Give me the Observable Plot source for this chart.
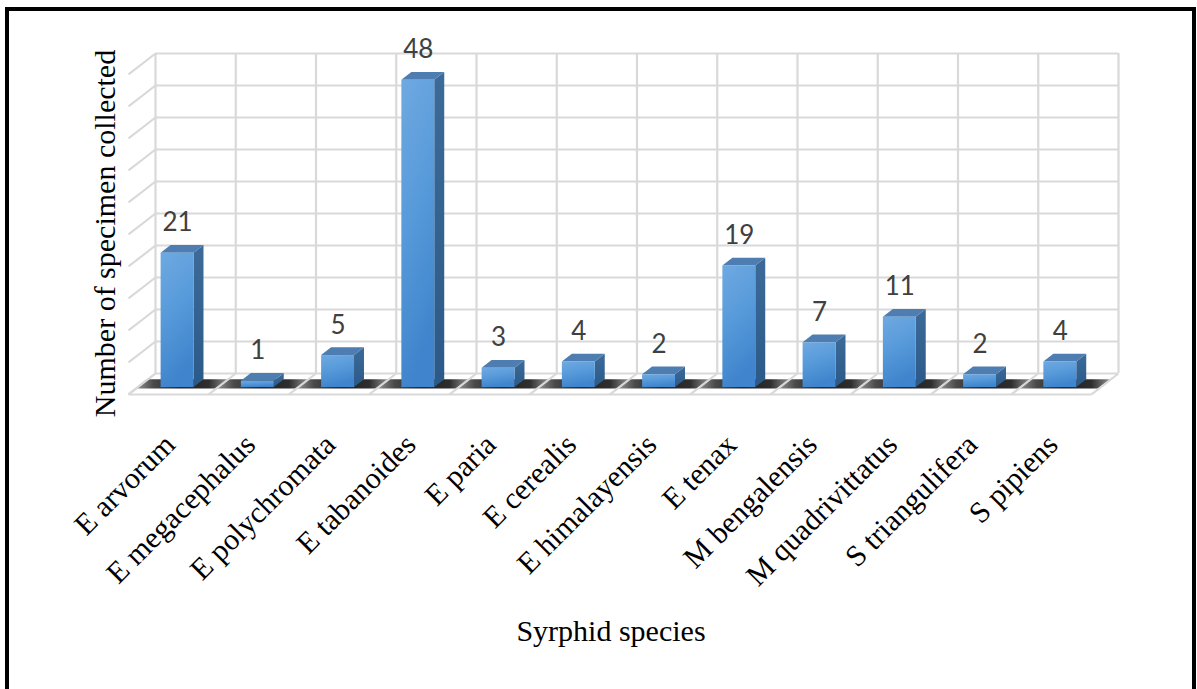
<!DOCTYPE html>
<html>
<head>
<meta charset="utf-8">
<script src="https://cdn.jsdelivr.net/npm/d3@7"></script>
<script src="https://cdn.jsdelivr.net/npm/@observablehq/plot@0.6"></script>
<style>
  html, body { margin: 0; padding: 0; background: #fff; }
  #wrap { position: relative; width: 1197px; height: 689px; overflow: hidden; background: #fff; }
  #frame { position: absolute; left: 5px; top: 7px; width: 1191px; height: 720px; box-sizing: border-box;
           border: 4px solid #000; border-bottom: none; pointer-events: none; }
  #chart { position: absolute; left: 0; top: 0; }
</style>
</head>
<body>
<div id="wrap"><div id="chart"></div><div id="frame"></div></div>
<script>
// ---- data ----
const species = ["E arvorum", "E megacephalus", "E polychromata", "E tabanoides", "E paria", "E cerealis",
  "E himalayensis", "E tenax", "M bengalensis", "M quadrivittatus", "S triangulifera", "S pipiens"];
const counts = [21, 1, 5, 48, 3, 4, 2, 19, 7, 11, 2, 4];
const gridTicks = [0, 5, 10, 15, 20, 25, 30, 35, 40, 45, 50];
const xTitle = "Syrphid species";
const yTitle = "Number of specimen collected";

// ---- 3D projection (oblique): z = 1 back wall, z = 0 front edge of floor ----
const KX = 0.336, KY = 3.28;      // shift of full depth in category / value units
const HW = 0.205, ZF = 0.33, ZB = 0.70;   // bar half width, bar front & back depth
const P = (x, y, z) => [x - (1 - z) * KX, y - (1 - z) * KY];

const rows = species.map((s, i) => ({i, s, v: counts[i]}));

const frontFaces = rows.map(d => {
  const [x1, y1] = P(d.i - HW, 0, ZF);
  const [x2, y2] = P(d.i + HW, d.v, ZF);
  return {x1, x2, y1, y2};
});
const sideFaces = rows.flatMap(d => [ZF, ZB].map(z => {
  const [x, y1] = P(d.i + HW, 0, z);
  const [, y2] = P(d.i + HW, d.v, z);
  return {key: d.i, x, y1, y2};
}));
const topFaces = rows.flatMap(d => [ZF, ZB].map(z => {
  const [x1, y] = P(d.i - HW, d.v, z);
  const [x2] = P(d.i + HW, d.v, z);
  return {key: d.i, y, x1, x2};
}));
const valueLabels = rows.map(d => { const [x, y] = P(d.i, d.v, ZF); return {x, y, t: String(d.v)}; });
const tickLabels = rows.map(d => { const [x, y] = P(d.i, 0, 0); return {x, y, t: d.s}; });

const wallLines = gridTicks.map(g => {
  const [x1, y1] = P(-0.5, g, 1); const [x2, y2] = P(-0.5, g, 0);
  return {x1, y1, x2, y2};
});
const bounds = d3.range(species.length + 1).map(k => k - 0.5);
const floorLines = bounds.map(b => {
  const [x1, y1] = P(b, 0, 1); const [x2, y2] = P(b, 0, 0);
  return {x1, y1, x2, y2};
});
{
  const [x1, y1] = P(-0.5, 0, 0); const [x2, y2] = P(species.length - 0.5, 0, 0);
  floorLines.push({x1, y1, x2, y2});
}
const ZS1 = 0.26, ZS2 = 0.70;
const shadowCells = rows.flatMap(d => [ZS1, ZS2].map(z => {
  const [x1, y] = P(d.i - 0.5, 0, z);
  const [x2] = P(d.i + 0.5, 0, z);
  return {key: d.i, y, x1, x2};
}));

const gridColor = "#d9d9d9";
const serif = "'Liberation Serif', 'DejaVu Serif', serif";
const chart = Plot.plot({
  width: 1197,
  height: 689,
  marginLeft: 155,
  marginRight: 79,
  marginTop: 53,
  marginBottom: 316,
  x: {domain: [-0.5, species.length - 0.5], axis: null},
  y: {domain: [0, 50], axis: null},
  style: {background: "transparent"},
  marks: [
    Plot.gridY(gridTicks, {stroke: gridColor, strokeOpacity: 1, strokeWidth: 2.2}),
    Plot.gridX(bounds, {stroke: gridColor, strokeOpacity: 1, strokeWidth: 2.2}),
    Plot.link(wallLines, {x1: "x1", y1: "y1", x2: "x2", y2: "y2", stroke: gridColor, strokeWidth: 2.2}),
    Plot.areaX(shadowCells, {y: "y", x1: "x1", x2: "x2", z: "key", fill: "url(#shadowGrad)"}),
    Plot.link(floorLines, {x1: "x1", y1: "y1", x2: "x2", y2: "y2", stroke: gridColor, strokeWidth: 2.2}),
    Plot.areaY(sideFaces, {x: "x", y1: "y1", y2: "y2", z: "key", fill: "url(#sideGrad)"}),
    Plot.areaX(topFaces, {y: "y", x1: "x1", x2: "x2", z: "key", fill: "#4e7db1"}),
    Plot.rect(frontFaces, {x1: "x1", x2: "x2", y1: "y1", y2: "y2", fill: "url(#frontGrad)"}),
    Plot.text(valueLabels, {x: "x", y: "y", text: "t", dy: -22, lineAnchor: "bottom", textAnchor: "middle",
      fontSize: 26, fontFamily: "Lato, 'Liberation Sans', sans-serif", fill: "#404040"}),
    Plot.text(tickLabels, {x: "x", y: "y", text: "t", rotate: -45, textAnchor: "end", lineAnchor: "top",
      dx: -7, dy: 37, fontSize: 30, fontFamily: serif, fill: "#000"}),
    Plot.text([yTitle], {frameAnchor: "left", rotate: -90, textAnchor: "middle", lineAnchor: "bottom",
      dx: -41, dy: 20, fontSize: 30, fontFamily: serif, fill: "#000"}),
    Plot.text([xTitle], {frameAnchor: "bottom", textAnchor: "middle", lineAnchor: "bottom",
      dx: -26, dy: 267, fontSize: 30, fontFamily: serif, fill: "#000"})
  ]
});

// gradients
const NS = "http://www.w3.org/2000/svg";
const defs = document.createElementNS(NS, "defs");
function grad(id, stops, x2, y2) {
  const g = document.createElementNS(NS, "linearGradient");
  g.setAttribute("id", id);
  g.setAttribute("x1", "0"); g.setAttribute("y1", "0");
  g.setAttribute("x2", x2); g.setAttribute("y2", y2);
  for (const [o, c] of stops) {
    const s = document.createElementNS(NS, "stop");
    s.setAttribute("offset", o); s.setAttribute("stop-color", c);
    g.appendChild(s);
  }
  defs.appendChild(g);
}
grad("frontGrad", [[0, "#6fa9e1"], [0.5, "#579ada"], [1, "#3f84cc"]], "0.25", "1");
grad("sideGrad", [[0, "#3d6b99"], [1, "#2c5a88"]], "0", "1");
grad("shadowGrad", [[0, "#9a9a9a"], [0.2, "#4a4a4a"], [0.5, "#222"], [0.8, "#2e2e2e"], [1, "#8f8f8f"]], "1", "0");
const svgEl = chart.tagName.toLowerCase() === "svg" ? chart : chart.querySelector("svg");
svgEl.insertBefore(defs, svgEl.firstChild);

document.getElementById("chart").appendChild(chart);
</script>
</body>
</html>
